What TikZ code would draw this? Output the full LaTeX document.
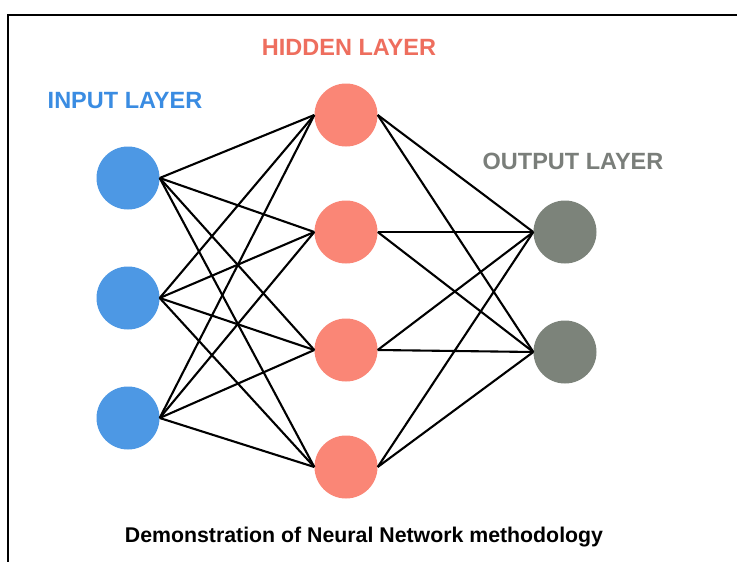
\documentclass[tikz,border=0pt]{standalone}
\usepackage{fontspec}
\setmainfont{Liberation Sans}[BoldFont={Liberation Sans Bold}]
\definecolor{inblue}{RGB}{77,152,228}
\definecolor{hidsalmon}{RGB}{250,134,118}
\definecolor{outgrey}{RGB}{124,131,122}
\definecolor{intext}{RGB}{58,140,226}
\definecolor{hidtext}{RGB}{238,110,94}
\definecolor{outtext}{RGB}{122,126,122}
\begin{document}
\begin{tikzpicture}[x=1pt,y=-1pt,
  neuron/.style={circle,minimum size=63pt,inner sep=0pt,draw=none},
  inneuron/.style={neuron,fill=inblue},
  hidneuron/.style={neuron,fill=hidsalmon},
  outneuron/.style={neuron,fill=outgrey},
  link/.style={black,line width=2.1pt},
  layerlabel/.style={font=\bfseries\fontsize{23.5}{27}\selectfont,inner sep=0pt},
  frameline/.style={black,line width=1.3pt}]
\useasboundingbox (0,0) rectangle (737,562);
\fill[white] (0,0) rectangle (737,562);
% outer frame
\draw[frameline] (8,562) -- (8,15) -- (737,15);

% layer titles
\node[layerlabel,text=intext]  (tin)  at (125,101) {INPUT LAYER};
\node[layerlabel,text=hidtext] (thid) at (349,47)  {HIDDEN LAYER};
\node[layerlabel,text=outtext] (tout) at (573,161) {OUTPUT LAYER};

% neurons
\node[inneuron] (i1) at (128,178) {};
\node[inneuron] (i2) at (128,298) {};
\node[inneuron] (i3) at (128,418) {};
\node[hidneuron] (h1) at (346,115) {};
\node[hidneuron] (h2) at (346,232) {};
\node[hidneuron] (h3) at (346,350) {};
\node[hidneuron] (h4) at (346,467) {};
\node[outneuron] (o1) at (565,232) {};
\node[outneuron] (o2) at (565,352) {};

% fully connected links
\foreach \a in {i1,i2,i3}
  \foreach \b in {h1,h2,h3,h4}
    \draw[link] (\a.east) -- (\b.west);
\foreach \a in {h1,h2,h3,h4}
  \foreach \b in {o1,o2}
    \draw[link] (\a.east) -- (\b.west);

% caption
\node[font=\bfseries\fontsize{21.3}{24}\selectfont,inner sep=0pt] (cap) at (364,537)
  {Demonstration of Neural Network methodology};
\end{tikzpicture}
\end{document}
